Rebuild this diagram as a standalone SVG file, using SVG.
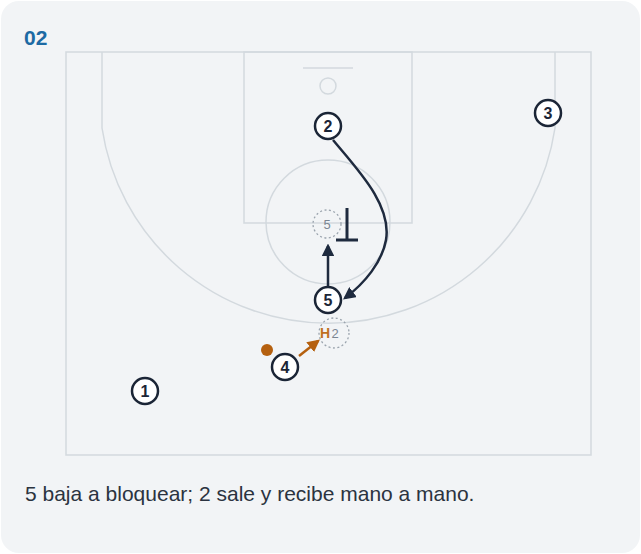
<svg xmlns="http://www.w3.org/2000/svg" width="641" height="554" viewBox="0 0 641 554">
<defs>
<style>
.court{fill:none;stroke:#d3d9de;stroke-width:1.5}
.pl circle{fill:#fff;stroke:#1b2536;stroke-width:2.5}
.pl text{font-family:"Liberation Sans",Arial,sans-serif;font-weight:bold;font-size:16px;fill:#1b2536;text-anchor:middle}
.ghost{fill:none;stroke:#9aa3ad;stroke-width:1.3;stroke-dasharray:2 2.5}
.gt{font-family:"Liberation Sans",Arial,sans-serif;font-size:13px;fill:#7b8692;text-anchor:middle}
.mv{fill:none;stroke:#1e2a3e;stroke-width:2.5}
</style>
<marker id="ah" viewBox="0 0 10 10" refX="8" refY="5" markerWidth="5" markerHeight="5" orient="auto" markerUnits="strokeWidth"><path d="M0,0 L10,5 L0,10 Z" fill="#1e2a3e"/></marker>
<marker id="ao" viewBox="0 0 10 10" refX="8" refY="5" markerWidth="5" markerHeight="5" orient="auto" markerUnits="strokeWidth"><path d="M0,0 L10,5 L0,10 Z" fill="#b5600f"/></marker>
</defs>
<rect x="0" y="0" width="641" height="554" fill="#fff"/>
<rect x="1" y="1" width="639" height="552" rx="18" fill="#f2f4f6"/>
<text x="24" y="45" font-family="'Liberation Sans',Arial,sans-serif" font-weight="bold" font-size="21" fill="#1d6aa3">02</text>
<g id="court">
<rect class="court" x="66" y="52" width="525" height="403"/>
<rect class="court" x="244" y="52" width="168" height="171"/>
<circle class="court" cx="328" cy="222" r="62"/>
<line class="court" x1="303" y1="68" x2="353" y2="68"/>
<circle class="court" cx="328" cy="86" r="8"/>
<path class="court" d="M102,52 L102,128 A229,229 0 0 0 555,128 L555,52"/>
</g>
<g id="connectors">
<line class="mv" x1="328" y1="286" x2="328" y2="246" marker-end="url(#ah)"/>
<path class="mv" d="M333,140 C358,170 392,205 386,240 C382,262 365,283 345,298" marker-end="url(#ah)"/>
<line x1="347" y1="208" x2="347" y2="240" stroke="#1e2a3e" stroke-width="3"/>
<line x1="336" y1="240" x2="358" y2="240" stroke="#1e2a3e" stroke-width="3"/>
<line x1="299" y1="356" x2="318" y2="341" stroke="#b5600f" stroke-width="2.5" marker-end="url(#ao)"/>
</g>
<g id="ghost5"><circle class="ghost" cx="327" cy="224" r="14"/><text class="gt" x="327" y="229">5</text></g>
<g id="ghost2"><circle class="ghost" cx="334" cy="333" r="15"/><text class="gt" x="335" y="338">2</text>
<text x="325" y="338" font-family="'Liberation Sans',Arial,sans-serif" font-weight="bold" font-size="14" fill="#c0701f" text-anchor="middle">H</text></g>
<g id="ball"><circle cx="267" cy="350" r="6" fill="#b5600f"/></g>
<g id="p2" class="pl"><circle cx="328" cy="126" r="13"/><text x="328" y="132">2</text></g>
<g id="p3" class="pl"><circle cx="548" cy="113" r="13"/><text x="548" y="119">3</text></g>
<g id="p5" class="pl"><circle cx="328" cy="300" r="13"/><text x="328" y="306">5</text></g>
<g id="p4" class="pl"><circle cx="285" cy="367" r="13"/><text x="285" y="373">4</text></g>
<g id="p1" class="pl"><circle cx="145" cy="391" r="13"/><text x="145" y="397">1</text></g>
<text x="25" y="501" font-family="'Liberation Sans',Arial,sans-serif" font-size="21" fill="#2b3340">5 baja a bloquear; 2 sale y recibe mano a mano.</text>
</svg>
